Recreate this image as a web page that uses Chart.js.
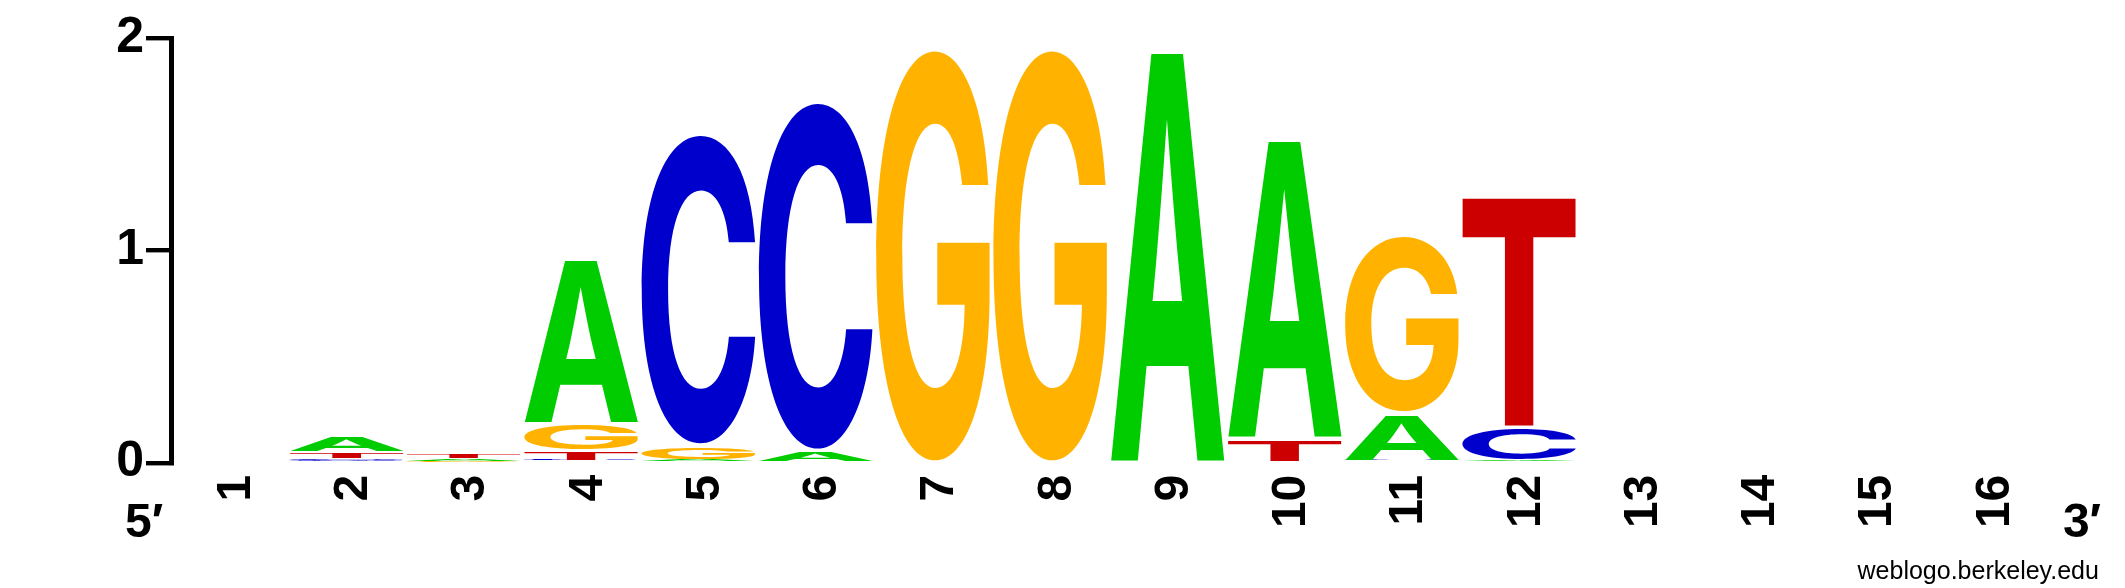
<!DOCTYPE html>
<html><head><meta charset="utf-8">
<script src="https://cdn.jsdelivr.net/npm/chart.js@4.4.1/dist/chart.umd.min.js"></script>
<style>html,body{margin:0;padding:0;background:#fff;}canvas{display:block;}</style>
</head><body>
<canvas id="c" width="2125" height="588"></canvas>
<script>
// ---- data (bits per letter, positions 1..16) ----
const positions = ['1','2','3','4','5','6','7','8','9','10','11','12','13','14','15','16'];
const bitsA = [0, 0.085, 0.012, 0.779, 0.019, 0.066, 0,     0,     1.952, 1.413, 0.227, 0.014, 0, 0, 0, 0];
const bitsC = [0, 0.012, 0.005, 0.012, 1.464, 1.639, 0,     0,     0,     0,     0.014, 0.161, 0, 0, 0, 0];
const bitsG = [0, 0.008, 0.005, 0.132, 0.072, 0,     1.952, 1.952, 0,     0,     0.837, 0,     0, 0, 0, 0];
const bitsT = [0, 0.034, 0.022, 0.050, 0,     0,     0,     0,     0,     0.123, 0,     1.092, 0, 0, 0, 0];
const yTicks = [0, 1, 2];
const letters = ['A','C','G','T'];
const letterColors = {A:'#00CC00', C:'#0000CC', G:'#FFB300', T:'#CC0000'};

// ---- build stack layers (smallest letter at bottom) ----
const byLetter = {A: bitsA, C: bitsC, G: bitsG, T: bitsT};
const layers = letters.map(() => ({values: [], letters: []}));
positions.forEach((p, i) => {
  const sorted = letters.map(l => ({l, v: byLetter[l][i]})).sort((a, b) => a.v - b.v);
  sorted.forEach((s, k) => { layers[k].values.push(s.v); layers[k].letters.push(s.l); });
});

const FONT = '"Liberation Sans", Arial, Helvetica, sans-serif';
const GLYPH_FONT = 'Inter, "Liberation Sans", sans-serif';

function drawGlyph(ctx, ch, color, x0, top, w, h) {
  if (w <= 0 || h <= 0) return;
  ctx.save();
  ctx.font = 'bold 200px ' + GLYPH_FONT;
  ctx.textAlign = 'left';
  ctx.textBaseline = 'alphabetic';
  const m = ctx.measureText(ch);
  const L = m.actualBoundingBoxLeft, R = m.actualBoundingBoxRight;
  const A = m.actualBoundingBoxAscent, D = m.actualBoundingBoxDescent;
  ctx.translate(x0, top);
  ctx.scale(w / (L + R), h / (A + D));
  ctx.fillStyle = color;
  ctx.fillText(ch, L, A);
  ctx.restore();
}

const logoPlugin = {
  id: 'logoLetters',
  afterDatasetsDraw(chart) {
    const ctx = chart.ctx;
    chart.data.datasets.forEach((ds, di) => {
      const meta = chart.getDatasetMeta(di);
      meta.data.forEach((bar, i) => {
        const v = ds.data[i];
        if (!v) return;
        const p = bar.getProps(['x', 'y', 'base', 'width'], true);
        const h = p.base - p.y;
        if (h <= 0) return;
        const gap = Math.min(4, 0.3 * h);
        drawGlyph(ctx, ds.letters[i], letterColors[ds.letters[i]], p.x - p.width / 2, p.y + gap, p.width, h - gap);
      });
    });
  },
  afterDraw(chart) {
    const ctx = chart.ctx;
    const a = chart.chartArea;
    ctx.save();
    ctx.fillStyle = '#000';
    ctx.textBaseline = 'alphabetic';
    ctx.font = 'bold 48px ' + FONT;
    ctx.textAlign = 'left';
    ctx.fillText('5\u2032', a.left - 46, a.bottom + 74);
    ctx.fillText('3\u2032', a.right + 16, a.bottom + 74);
    ctx.font = '25px ' + FONT;
    ctx.textAlign = 'right';
    ctx.fillText('weblogo.berkeley.edu', a.right + 52, a.bottom + 116);
    ctx.restore();
  }
};

const tickFont = {family: FONT, size: 48, weight: 'bold'};
const yTickFont = {family: FONT, size: 50, weight: 'bold'};

new Chart(document.getElementById('c'), {
  type: 'bar',
  data: {
    labels: positions,
    datasets: layers.map((L, k) => ({
      label: 'layer' + k,
      data: L.values,
      letters: L.letters,
      backgroundColor: 'rgba(0,0,0,0)',
      borderWidth: 0,
      stack: 'logo',
      barPercentage: 0.9724,
      categoryPercentage: 1
    }))
  },
  options: {
    responsive: false,
    devicePixelRatio: 1,
    animation: false,
    layout: {padding: {top: 38.5, right: 78.1, bottom: 0, left: 0}},
    plugins: {legend: {display: false}, tooltip: {enabled: false}},
    scales: {
      x: {
        type: 'category',
        stacked: true,
        offset: true,
        afterFit: s => { s.height = 125.3; },
        grid: {display: false},
        border: {display: false},
        ticks: {autoSkip: false, minRotation: 90, maxRotation: 90, padding: 4, labelOffset: 7,
                font: tickFont, color: '#000'}
      },
      y: {
        type: 'linear',
        stacked: true,
        min: 0, max: 2,
        afterBuildTicks: s => { s.ticks = yTicks.map(v => ({value: v})); },
        afterFit: s => { s.width = 171; },
        grid: {drawOnChartArea: false, drawTicks: true, tickLength: 25, lineWidth: 4.4, color: '#000'},
        border: {display: true, width: 5, color: '#000'},
        ticks: {padding: 2, font: yTickFont, color: '#000', callback: v => String(v)}
      }
    }
  },
  plugins: [logoPlugin]
});
</script>
</body></html>
